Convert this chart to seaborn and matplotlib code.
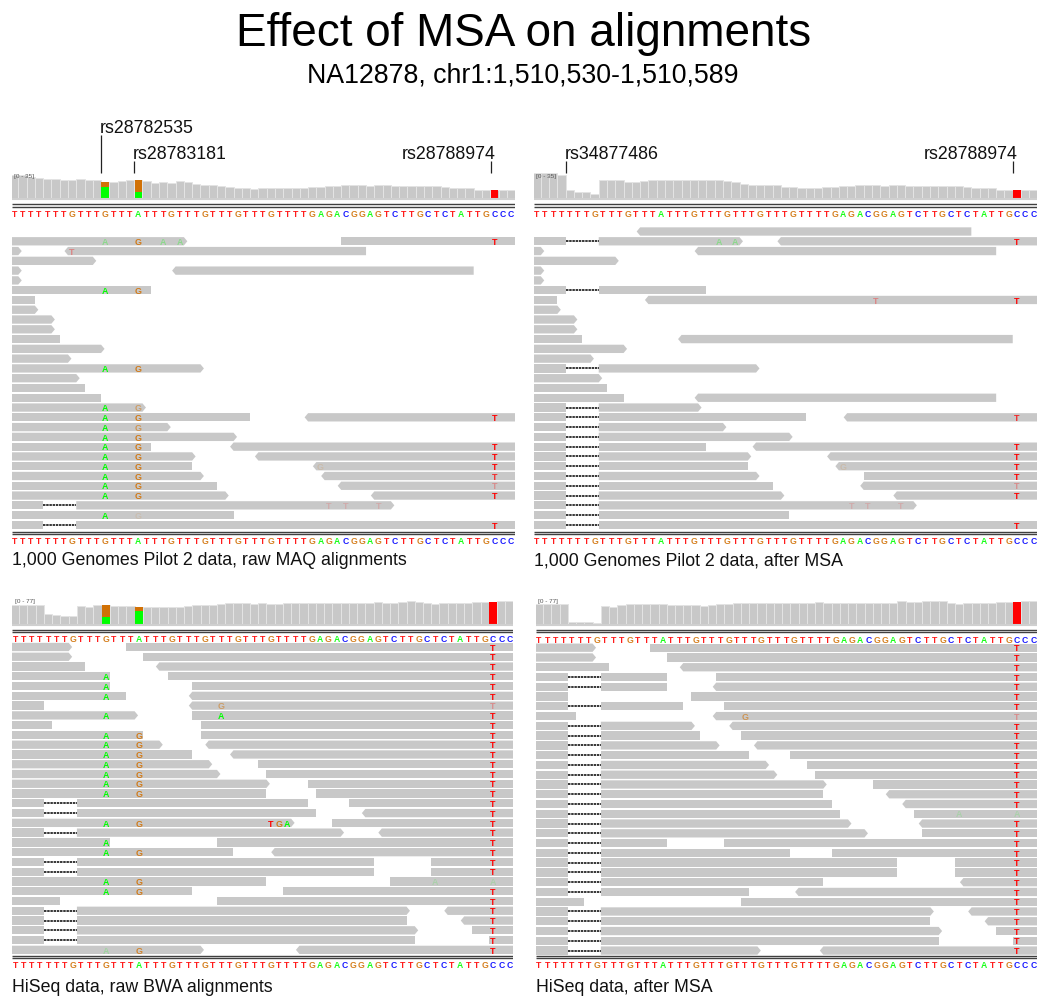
import pandas as pd
import matplotlib
matplotlib.use('Agg')
import matplotlib.pyplot as plt
import seaborn as sns

sns.set_theme(style='white')
plt.rcParams['font.family'] = ['Liberation Sans', 'DejaVu Sans']

W, H = 1050, 1006
GRAY = '#c8c8c8'
BASE_COLORS = {'T': '#ff0000', 'G': '#d17105', 'A': '#00ff00', 'C': '#0000ff'}

title = 'Effect of MSA on alignments'
subtitle = 'NA12878, chr1:1,510,530-1,510,589'
reference = 'TTTTTTTGTTTGTTTATTTGTTTGTTTGTTTGTTTTGAGACGGAGTCTTGCTCTATTGCCC'

# coverage per base
maq_raw_cov = [33, 32, 30, 29, 27, 27, 26, 26, 27, 26, 25, 22, 22, 24, 25, 26, 24, 21, 22, 21,
               24, 23, 20, 18, 18, 17, 16, 14, 14, 13, 14, 14, 14, 14, 14, 14, 15, 15, 17, 17,
               18, 18, 18, 17, 18, 18, 17, 17, 17, 17, 17, 17, 16, 14, 14, 14, 12, 12, 11, 11, 11]
maq_msa_cov = [35, 35, 35, 33, 11, 9, 8, 5, 26, 26, 25, 22, 22, 24, 25, 25, 25, 25, 26, 26,
               26, 25, 25, 24, 22, 20, 19, 19, 18, 18, 15, 15, 14, 14, 14, 15, 15, 17, 17, 18,
               18, 18, 17, 18, 18, 17, 17, 17, 17, 17, 17, 17, 16, 14, 14, 14, 12, 12, 11, 11, 11]
bwa_raw_cov = [64, 64, 64, 64, 33, 30, 26, 26, 59, 57, 62, 63, 59, 59, 59, 57, 56, 56, 56, 56,
               56, 59, 62, 63, 63, 66, 68, 68, 68, 66, 68, 66, 66, 68, 68, 70, 70, 70, 70, 70,
               70, 70, 70, 70, 73, 70, 70, 73, 75, 73, 68, 66, 68, 70, 70, 70, 73, 73, 73, 75, 75]
bwa_msa_cov = [67, 67, 67, 67, 6, 7, 5, 1, 59, 57, 62, 64, 64, 64, 64, 64, 62, 62, 62, 62,
               59, 62, 64, 66, 69, 70, 70, 70, 68, 70, 70, 70, 69, 69, 73, 70, 70, 70, 70, 70,
               70, 70, 70, 70, 74, 71, 71, 74, 76, 74, 69, 66, 69, 70, 70, 70, 73, 73, 73, 76, 76]

# coloured part of a coverage bar: (base, letter, depth)
maq_raw_snp = [(11, 'G', 22), (11, 'A', 15), (15, 'G', 26), (15, 'A', 9), (58, 'T', 11)]
maq_msa_snp = [(58, 'T', 11)]
bwa_raw_snp = [(11, 'G', 63), (11, 'A', 22), (15, 'G', 57), (15, 'A', 43), (58, 'T', 73)]
bwa_msa_snp = [(58, 'T', 73)]

# reads: (row, start, end, strand), strand 1 = arrow right, -1 = arrow left
maq_raw_reads = [
    (1, 0, 21, 1), (1, 40, 62, 0), (2, 0, 1, 1), (2, 7, 43, -1), (3, 0, 10, 1), (4, 0, 1, 1),
    (4, 20, 56, -1), (5, 0, 1, 1), (6, 0, 17, 0), (7, 0, 3, 0), (8, 0, 3, 1), (9, 0, 5, 1),
    (10, 0, 5, 1), (11, 0, 6, 0), (12, 0, 11, 1), (13, 0, 7, 1), (14, 0, 23, 1), (15, 0, 8, 1),
    (16, 0, 9, 0), (17, 0, 11, 0), (18, 0, 16, 1), (19, 0, 29, 0), (19, 36, 62, -1),
    (20, 0, 19, 1), (21, 0, 27, 1), (22, 0, 17, 0), (22, 27, 62, -1), (23, 0, 22, 1),
    (23, 30, 62, -1), (24, 0, 22, 0), (24, 37, 62, -1), (25, 0, 23, 1), (25, 38, 62, -1),
    (26, 0, 25, 0), (26, 40, 62, -1), (27, 0, 26, 1), (27, 44, 62, -1), (28, 0, 4, 0),
    (28, 8, 46, 1), (29, 0, 27, 0), (30, 0, 4, 0), (30, 8, 62, 0),
]
maq_msa_reads = [
    (0, 13, 53, -1), (1, 0, 4, 0), (1, 8, 25, 1), (1, 30, 62, -1), (2, 0, 1, 1), (2, 20, 56, -1),
    (3, 0, 10, 1), (4, 0, 1, 1), (5, 0, 1, 1), (6, 0, 4, 0), (6, 8, 21, 0), (7, 0, 3, 0),
    (7, 14, 62, -1), (8, 0, 3, 1), (9, 0, 5, 1), (10, 0, 5, 1), (11, 0, 6, 0), (11, 18, 58, -1),
    (12, 0, 11, 1), (13, 0, 7, 1), (14, 0, 4, 0), (14, 8, 27, 1), (15, 0, 8, 1), (16, 0, 9, 0),
    (17, 0, 11, 0), (17, 20, 56, -1), (18, 0, 4, 0), (18, 8, 20, 1), (19, 0, 4, 0), (19, 8, 33, 0),
    (19, 38, 62, -1), (20, 0, 4, 0), (20, 8, 23, 1), (21, 0, 4, 0), (21, 8, 31, 1), (22, 0, 4, 0),
    (22, 8, 21, 0), (22, 27, 62, -1), (23, 0, 4, 0), (23, 8, 26, 1), (23, 36, 62, -1),
    (24, 0, 4, 0), (24, 8, 26, 0), (24, 37, 62, -1), (25, 0, 4, 0), (25, 8, 27, 1), (25, 40, 62, 0),
    (26, 0, 4, 0), (26, 8, 29, 0), (26, 40, 62, -1), (27, 0, 4, 0), (27, 8, 30, 1), (27, 44, 62, -1),
    (28, 0, 4, 0), (28, 8, 46, 1), (29, 0, 4, 0), (29, 8, 31, 0), (30, 0, 4, 0), (30, 8, 62, 0),
]
bwa_raw_reads = [
    (0, 0, 7, 1), (0, 14, 62, 0), (1, 0, 7, 1), (1, 16, 62, 0), (2, 0, 9, 0), (2, 18, 62, -1),
    (3, 0, 12, 0), (3, 19, 62, 0), (4, 0, 12, 0), (4, 22, 62, 0), (5, 0, 14, 0), (5, 22, 62, -1),
    (6, 0, 4, 0), (6, 22, 62, -1), (7, 0, 15, 1), (7, 22, 62, 0), (8, 0, 5, 0), (8, 23, 62, 0),
    (9, 0, 16, 0), (9, 23, 62, 0), (10, 0, 18, 1), (10, 24, 62, -1), (11, 0, 22, 0), (11, 27, 62, -1),
    (12, 0, 24, 1), (12, 30, 62, 0), (13, 0, 25, 1), (13, 31, 62, 0), (14, 0, 31, 1), (14, 36, 62, 0),
    (15, 0, 31, 0), (15, 37, 62, 0), (16, 0, 4, 0), (16, 8, 36, 0), (16, 41, 62, 0), (17, 0, 4, 0),
    (17, 8, 37, 0), (17, 43, 62, -1), (18, 0, 34, 1), (18, 39, 62, 0), (19, 0, 4, 0), (19, 8, 40, 1),
    (19, 45, 62, -1), (20, 0, 12, 0), (20, 25, 62, 0), (21, 0, 27, 0), (21, 32, 62, -1), (22, 0, 4, 0),
    (22, 8, 44, 0), (22, 51, 62, 0), (23, 0, 4, 0), (23, 8, 44, 0), (23, 51, 62, 0), (24, 0, 31, 0),
    (24, 46, 62, 0), (25, 0, 22, 0), (25, 33, 62, 0), (26, 0, 6, 0), (26, 25, 62, 0), (27, 0, 4, 0),
    (27, 8, 48, 1), (27, 53, 62, -1), (28, 0, 4, 0), (28, 8, 48, 0), (28, 55, 62, -1), (29, 0, 4, 0),
    (29, 8, 49, 1), (29, 56, 62, 0), (30, 0, 4, 0), (30, 8, 49, 0), (30, 58, 62, 0), (31, 0, 23, 1),
    (31, 35, 62, -1),
]
bwa_msa_reads = [
    (0, 0, 7, 1), (0, 14, 62, 0), (1, 0, 7, 1), (1, 16, 62, 0), (2, 0, 9, 0), (2, 18, 62, -1),
    (3, 0, 4, 0), (3, 8, 16, 0), (3, 22, 62, 0), (4, 0, 4, 0), (4, 8, 16, 0), (4, 22, 62, -1),
    (5, 0, 4, 0), (5, 19, 62, 0), (6, 0, 4, 0), (6, 8, 18, 0), (6, 23, 62, 0), (7, 0, 5, 0),
    (7, 22, 62, -1), (8, 0, 4, 0), (8, 8, 19, 1), (8, 24, 62, -1), (9, 0, 4, 0), (9, 8, 20, 0),
    (9, 25, 62, 0), (10, 0, 4, 0), (10, 8, 22, 1), (10, 27, 62, -1), (11, 0, 4, 0), (11, 8, 26, 0),
    (11, 31, 62, 0), (12, 0, 4, 0), (12, 8, 28, 1), (12, 33, 62, 0), (13, 0, 4, 0), (13, 8, 29, 1),
    (13, 34, 62, 0), (14, 0, 4, 0), (14, 8, 35, 1), (14, 41, 62, 0), (15, 0, 4, 0), (15, 8, 35, 0),
    (15, 43, 62, -1), (16, 0, 4, 0), (16, 8, 36, 0), (16, 45, 62, -1), (17, 0, 4, 0), (17, 8, 37, 0),
    (17, 46, 62, 0), (18, 0, 4, 0), (18, 8, 38, 1), (18, 47, 62, -1), (19, 0, 4, 0), (19, 8, 40, 1),
    (19, 47, 62, 0), (20, 0, 4, 0), (20, 8, 16, 0), (20, 23, 62, 0), (21, 0, 4, 0), (21, 8, 31, 0),
    (21, 36, 62, 0), (22, 0, 4, 0), (22, 8, 44, 0), (22, 51, 62, 0), (23, 0, 4, 0), (23, 8, 44, 0),
    (23, 51, 62, 0), (24, 0, 4, 0), (24, 8, 35, 0), (24, 52, 62, -1), (25, 0, 4, 0), (25, 8, 26, 0),
    (25, 32, 62, -1), (26, 0, 6, 0), (26, 25, 62, 0), (27, 0, 4, 0), (27, 8, 48, 1), (27, 53, 62, -1),
    (28, 0, 4, 0), (28, 8, 48, 0), (28, 55, 62, -1), (29, 0, 4, 0), (29, 8, 49, 1), (29, 56, 62, 0),
    (30, 0, 4, 0), (30, 8, 49, 0), (30, 58, 62, 0), (31, 0, 4, 0), (31, 8, 27, 1), (31, 35, 62, -1),
]

# rows where a deletion joins base 4 to base 8
maq_raw_gaps = [28, 30]
maq_msa_gaps = [1, 6, 14, 18, 19, 20, 21, 22, 23, 24, 25, 26, 27, 28, 29, 30]
bwa_raw_gaps = [16, 17, 19, 22, 23, 27, 28, 29, 30]
bwa_msa_gaps = [3, 4, 6, 8, 9, 10, 11, 12, 13, 14, 15, 16, 17, 18, 19, 20, 21, 22, 23, 24, 25, 27, 28, 29, 30, 31]

# mismatched bases: (row, base, letter, opacity)
maq_raw_mismatch = [
    (1, 11, 'A', .3), (1, 15, 'G', .9), (1, 18, 'A', .3), (1, 20, 'A', .3), (1, 58, 'T', 1),
    (2, 7, 'T', .35), (6, 11, 'A', 1), (6, 15, 'G', .9), (14, 11, 'A', 1), (14, 15, 'G', .9),
    (18, 11, 'A', 1), (18, 15, 'G', .5), (19, 11, 'A', 1), (19, 15, 'G', .9), (19, 58, 'T', 1),
    (20, 11, 'A', 1), (20, 15, 'G', .6), (21, 11, 'A', 1), (21, 15, 'G', .9), (22, 11, 'A', 1),
    (22, 15, 'G', .9), (22, 58, 'T', 1), (23, 11, 'A', 1), (23, 15, 'G', .9), (23, 58, 'T', 1),
    (24, 11, 'A', 1), (24, 15, 'G', .9), (24, 37, 'G', .15), (24, 58, 'T', 1), (25, 11, 'A', 1),
    (25, 15, 'G', .9), (25, 58, 'T', .8), (26, 11, 'A', 1), (26, 15, 'G', .9), (26, 58, 'T', .3),
    (27, 11, 'A', 1), (27, 15, 'G', .9), (27, 58, 'T', 1), (28, 38, 'T', .15), (28, 40, 'T', .15),
    (28, 44, 'T', .15), (29, 11, 'A', 1), (29, 15, 'G', .12), (30, 58, 'T', 1),
]
maq_msa_mismatch = [
    (1, 22, 'A', .3), (1, 24, 'A', .3), (1, 58, 'T', 1), (7, 41, 'T', .35), (7, 58, 'T', 1),
    (19, 58, 'T', .8), (22, 58, 'T', 1), (23, 58, 'T', 1), (24, 37, 'G', .15), (24, 58, 'T', 1),
    (25, 58, 'T', 1), (26, 58, 'T', .3), (27, 58, 'T', 1), (28, 38, 'T', .15), (28, 40, 'T', .15),
    (28, 44, 'T', .15), (30, 58, 'T', 1),
]
bwa_raw_mismatch = [
    (3, 11, 'A', 1), (4, 11, 'A', 1), (5, 11, 'A', 1), (6, 25, 'G', .5), (7, 11, 'A', 1),
    (7, 25, 'A', 1), (9, 11, 'A', 1), (9, 15, 'G', .9), (10, 11, 'A', 1), (10, 15, 'G', .9),
    (11, 11, 'A', 1), (11, 15, 'G', .9), (12, 11, 'A', 1), (12, 15, 'G', .9), (13, 11, 'A', 1),
    (13, 15, 'G', .9), (14, 11, 'A', 1), (14, 15, 'G', .9), (15, 11, 'A', 1), (15, 15, 'G', .9),
    (18, 11, 'A', 1), (18, 15, 'G', .9), (18, 31, 'T', 1), (18, 32, 'G', .9), (18, 33, 'A', 1),
    (20, 11, 'A', 1), (21, 11, 'A', 1), (21, 15, 'G', .9), (24, 11, 'A', 1), (24, 15, 'G', .9),
    (24, 51, 'A', .15), (24, 58, 'A', .15), (25, 11, 'A', 1), (25, 15, 'G', .9), (31, 11, 'A', .2),
    (31, 15, 'G', .8),
]
bwa_msa_mismatch = [(7, 25, 'G', .6), (17, 51, 'A', .15), (17, 58, 'A', .15)]
# nearly every HiSeq read carries the T at base 58
bwa_raw_t_rows = [r for r in range(32) if r != 24]
bwa_msa_t_rows = [r for r in range(32) if r != 17]

fig = plt.figure(figsize=(W / 100, H / 100), dpi=100)


def px_axes(left, top, right, bottom):
    ax = fig.add_axes([left / W, 1 - bottom / H, (right - left) / W, (bottom - top) / H])
    ax.set_axis_off()
    return ax


def draw_coverage(box, xlim, depth, snps, max_depth):
    ax = px_axes(*box)
    df = pd.DataFrame({'base': [i + .5 for i in range(len(depth))], 'depth': depth})
    sns.barplot(data=df, x='base', y='depth', native_scale=True, color=GRAY, saturation=1,
                width=1, linewidth=.7, edgecolor='#e4e4e4', ax=ax)
    for base, letter, height in snps:
        sns.barplot(x=[base + .5], y=[height], native_scale=True, color=BASE_COLORS[letter],
                    saturation=1, width=.92, linewidth=0, ax=ax)
    ax.set_xlim(xlim)
    ax.set_ylim(0, max_depth)
    ax.set_axis_off()


def draw_reads(box, xlim, nrows, reads, gaps, mismatches):
    ax = px_axes(*box)
    ax.set_xlim(xlim)
    ax.set_ylim(nrows - .5, -.5)
    half = .425
    for row, start, end, strand in reads:
        xs = [start, end, end, start]
        ys = [row - half, row - half, row + half, row + half]
        if strand == 1:
            xs.insert(2, end + .42)
            ys.insert(2, row)
        elif strand == -1:
            xs.append(start - .42)
            ys.append(row)
        ax.fill(xs, ys, color=GRAY, lw=0)
    ax.hlines(gaps, 4, 8, colors='black', lw=1.1, linestyles=(0, (1.6, .5)))
    for row, base, letter, alpha in mismatches:
        ax.text(base + .5, row + .12, letter, color=BASE_COLORS[letter], alpha=alpha, ha='center',
                va='center', fontsize=6.4, fontweight='bold')


def draw_sequence(px_left, px_right, xlim, sep_y, letter_y):
    ax = px_axes(px_left, sep_y - 3, px_right, letter_y + 6)
    ax.set_xlim(xlim)
    ax.set_ylim(letter_y + 6, sep_y - 3)
    ax.hlines([sep_y, sep_y + 2.4], xlim[0], xlim[1], colors='#404040', lw=1.0)
    for i, letter in enumerate(reference):
        ax.text(i + .5, letter_y + 1, letter, color=BASE_COLORS[letter], ha='center', va='center',
                fontsize=6.2, fontweight='bold', alpha=.9)


panels = [
    dict(left=11.7, right=514.5, origin=10.0, step=8.28, cov_top=173.3, cov_bot=198, max_depth=35,
         cov=maq_raw_cov, snp=maq_raw_snp, reads=maq_raw_reads, gaps=maq_raw_gaps,
         mismatch=maq_raw_mismatch, row0=231.5, row_h=9.78, nrows=31,
         top_sep=204.3, top_letters=213.3, bot_sep=531.7, bot_letters=540,
         label='[0 - 35]', label_xy=(14, 176), caption='1,000 Genomes Pilot 2 data, raw MAQ alignments',
         caption_y=565),
    dict(left=534.3, right=1036.7, origin=532.5, step=8.28, cov_top=173.3, cov_bot=198, max_depth=35,
         cov=maq_msa_cov, snp=maq_msa_snp, reads=maq_msa_reads, gaps=maq_msa_gaps,
         mismatch=maq_msa_mismatch, row0=231.5, row_h=9.78, nrows=31,
         top_sep=204.3, top_letters=213.3, bot_sep=531.7, bot_letters=540,
         label='[0 - 35]', label_xy=(536, 176), caption='1,000 Genomes Pilot 2 data, after MSA',
         caption_y=565),
    dict(left=12.3, right=512.7, origin=11.0, step=8.24, cov_top=600.7, cov_bot=624, max_depth=77,
         cov=bwa_raw_cov, snp=bwa_raw_snp, reads=bwa_raw_reads, gaps=bwa_raw_gaps,
         mismatch=bwa_raw_mismatch + [(r, 58, 'T', .3 if r == 6 else 1) for r in bwa_raw_t_rows],
         row0=647, row_h=9.77, nrows=32,
         top_sep=630, top_letters=638.5, bot_sep=955.7, bot_letters=965,
         label='[0 - 77]', label_xy=(15, 602), caption='HiSeq data, raw BWA alignments', caption_y=991.7),
    dict(left=536, right=1036.7, origin=534.9, step=8.24, cov_top=600.5, cov_bot=623.7, max_depth=77,
         cov=bwa_msa_cov, snp=bwa_msa_snp, reads=bwa_msa_reads, gaps=bwa_msa_gaps,
         mismatch=bwa_msa_mismatch + [(r, 58, 'T', .3 if r == 7 else 1) for r in bwa_msa_t_rows],
         row0=647.7, row_h=9.77, nrows=32,
         top_sep=630, top_letters=639, bot_sep=955.7, bot_letters=964.5,
         label='[0 - 77]', label_xy=(538, 601), caption='HiSeq data, after MSA', caption_y=991.7),
]

overlay = px_axes(0, 0, W, H)
overlay.set_xlim(0, W)
overlay.set_ylim(H, 0)
overlay.set_zorder(10)

for p in panels:
    xlim = ((p['left'] - p['origin']) / p['step'], (p['right'] - p['origin']) / p['step'])
    draw_coverage((p['left'], p['cov_top'], p['right'], p['cov_bot']), xlim, p['cov'], p['snp'],
                  p['max_depth'])
    overlay.hlines(p['cov_bot'] + 1.2, p['left'], p['right'], colors='#cfcfcf', lw=1.5)
    overlay.text(*p['label_xy'], p['label'], fontsize=4.6, color='#555555', va='center')
    draw_sequence(p['left'], p['right'], xlim, p['top_sep'], p['top_letters'])
    draw_sequence(p['left'], p['right'], xlim, p['bot_sep'], p['bot_letters'])
    draw_reads((p['left'], p['row0'] - p['row_h'] / 2, p['right'],
                p['row0'] + (p['nrows'] - .5) * p['row_h']),
               xlim, p['nrows'], p['reads'], p['gaps'], p['mismatch'])
    overlay.text(p['left'], p['caption_y'], p['caption'], fontsize=12.75, color='#111111', va='baseline')

snp_names = ['rs28782535', 'rs28783181', 'rs28788974', 'rs34877486', 'rs28788974']
snp_label_x = [100, 133, 401.7, 564.3, 923.3]
snp_label_y = [132.7, 159.3, 159.3, 159.3, 159.3]
snp_tick_x = [100.7, 134, 491, 565.7, 1012.7]
snp_tick_top = [135.3, 161.3, 161.3, 161.3, 161.3]
for name, lx, ly, tx, ty in zip(snp_names, snp_label_x, snp_label_y, snp_tick_x, snp_tick_top):
    overlay.text(lx, ly, name, fontsize=12.75, color='#111111', va='baseline')
    overlay.vlines(tx, ty, 172.7, colors='#222222', lw=.9)

overlay.text(524, 46, title, fontsize=33, ha='center', va='baseline', color='black')
overlay.text(523, 82.3, subtitle, fontsize=19.3, ha='center', va='baseline', color='black')

fig.savefig('out.png', dpi=100)
